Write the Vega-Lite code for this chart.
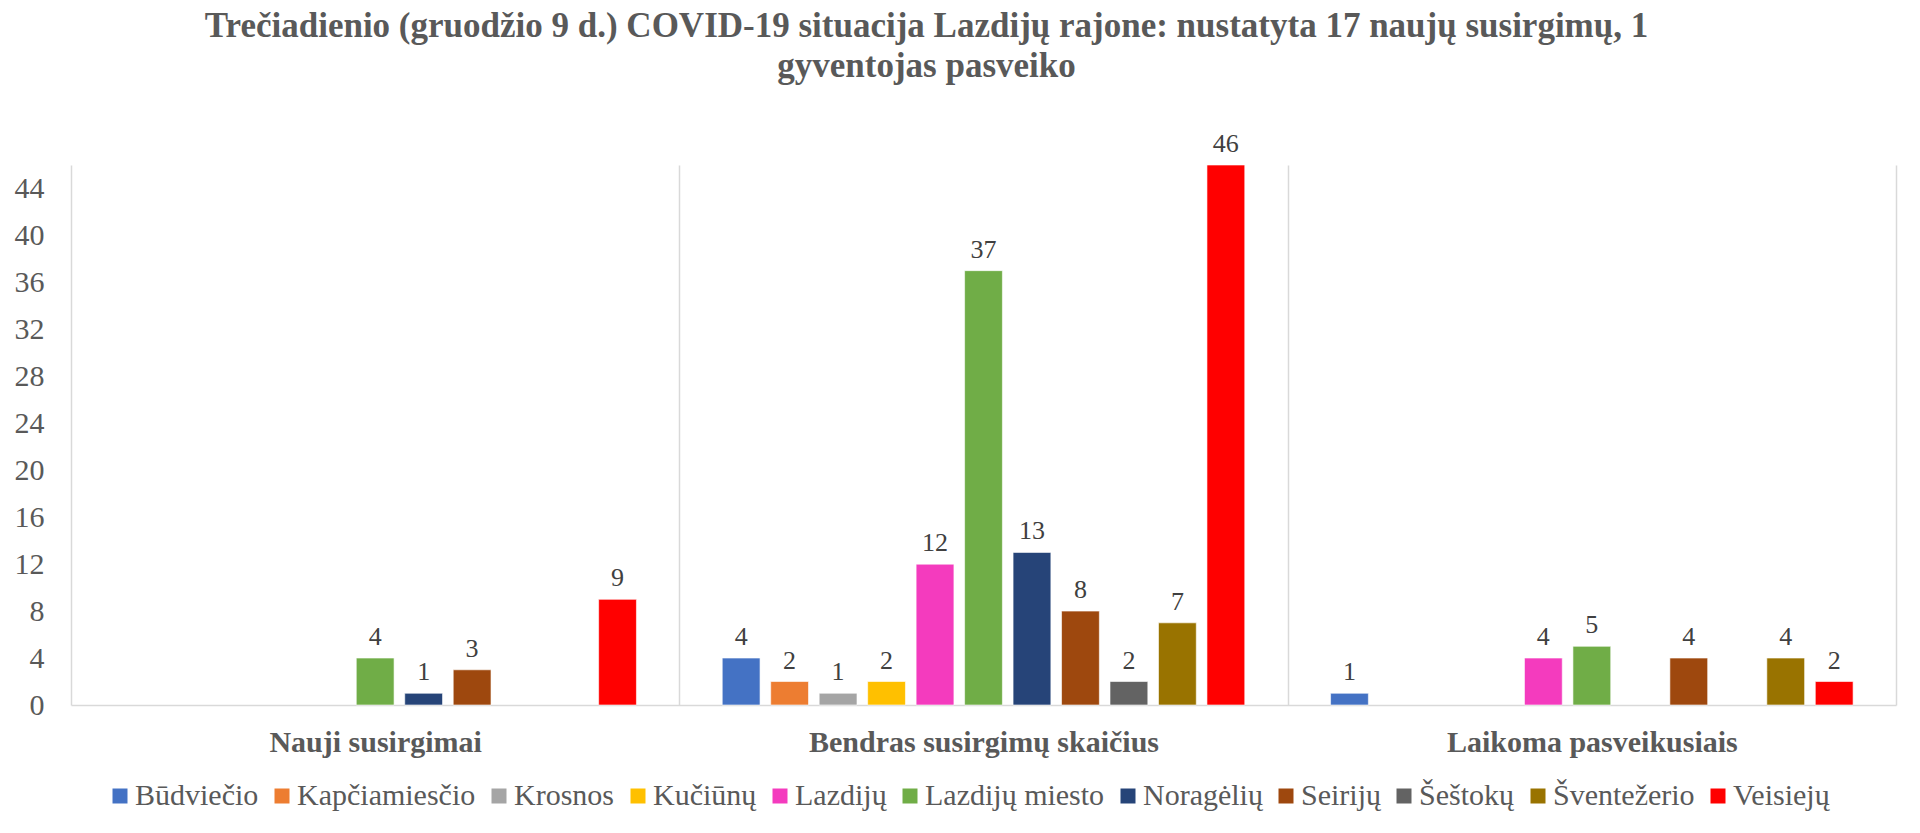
{
  "$schema": "https://vega.github.io/schema/vega-lite/v6.json",
  "width": 1825,
  "height": 540,
  "autosize": {"type": "none"},
  "padding": {"left": 71, "top": 165, "right": 24, "bottom": 128},
  "background": "white",
  "title": {
    "text": ["Trečiadienio (gruodžio 9 d.) COVID-19 situacija Lazdijų rajone: nustatyta 17 naujų susirgimų, 1", "gyventojas pasveiko"],
    "font": "Liberation Serif",
    "fontSize": 35,
    "fontWeight": "bold",
    "color": "#595959",
    "anchor": "middle",
    "lineHeight": 40,
    "dx": -57,
    "dy": -43
  },
  "data": {
    "values": [
      {"grupe": "Nauji susirgimai", "vietove": "Lazdijų miesto", "reiksme": 4},
      {"grupe": "Nauji susirgimai", "vietove": "Noragėlių", "reiksme": 1},
      {"grupe": "Nauji susirgimai", "vietove": "Seirijų", "reiksme": 3},
      {"grupe": "Nauji susirgimai", "vietove": "Veisiejų", "reiksme": 9},
      {"grupe": "Bendras susirgimų skaičius", "vietove": "Būdviečio", "reiksme": 4},
      {"grupe": "Bendras susirgimų skaičius", "vietove": "Kapčiamiesčio", "reiksme": 2},
      {"grupe": "Bendras susirgimų skaičius", "vietove": "Krosnos", "reiksme": 1},
      {"grupe": "Bendras susirgimų skaičius", "vietove": "Kučiūnų", "reiksme": 2},
      {"grupe": "Bendras susirgimų skaičius", "vietove": "Lazdijų", "reiksme": 12},
      {"grupe": "Bendras susirgimų skaičius", "vietove": "Lazdijų miesto", "reiksme": 37},
      {"grupe": "Bendras susirgimų skaičius", "vietove": "Noragėlių", "reiksme": 13},
      {"grupe": "Bendras susirgimų skaičius", "vietove": "Seirijų", "reiksme": 8},
      {"grupe": "Bendras susirgimų skaičius", "vietove": "Šeštokų", "reiksme": 2},
      {"grupe": "Bendras susirgimų skaičius", "vietove": "Šventežerio", "reiksme": 7},
      {"grupe": "Bendras susirgimų skaičius", "vietove": "Veisiejų", "reiksme": 46},
      {"grupe": "Laikoma pasveikusiais", "vietove": "Būdviečio", "reiksme": 1},
      {"grupe": "Laikoma pasveikusiais", "vietove": "Lazdijų", "reiksme": 4},
      {"grupe": "Laikoma pasveikusiais", "vietove": "Lazdijų miesto", "reiksme": 5},
      {"grupe": "Laikoma pasveikusiais", "vietove": "Seirijų", "reiksme": 4},
      {"grupe": "Laikoma pasveikusiais", "vietove": "Šventežerio", "reiksme": 4},
      {"grupe": "Laikoma pasveikusiais", "vietove": "Veisiejų", "reiksme": 2}
    ]
  },
  "encoding": {
    "x": {
      "field": "grupe",
      "type": "nominal",
      "sort": ["Nauji susirgimai", "Bendras susirgimų skaičius", "Laikoma pasveikusiais"],
      "scale": {"paddingInner": 0, "paddingOuter": 0},
      "axis": {
        "title": null,
        "labelAngle": 0,
        "labelFont": "Liberation Serif",
        "labelFontSize": 30,
        "labelFontWeight": "bold",
        "labelColor": "#595959",
        "labelPadding": 22,
        "labelLimit": 600,
        "ticks": false,
        "domainColor": "#D9D9D9",
        "domainWidth": 1.5,
        "grid": true,
        "gridColor": "#D9D9D9",
        "gridWidth": 1.5,
        "tickBand": "extent"
      }
    },
    "xOffset": {
      "field": "vietove",
      "type": "nominal",
      "scale": {
        "domain": ["Būdviečio", "Kapčiamiesčio", "Krosnos", "Kučiūnų", "Lazdijų", "Lazdijų miesto", "Noragėlių", "Seirijų", "Šeštokų", "Šventežerio", "Veisiejų"],
        "paddingInner": 0.22,
        "paddingOuter": 0.885
      }
    },
    "y": {
      "field": "reiksme",
      "type": "quantitative",
      "scale": {"domain": [0, 46], "nice": false},
      "axis": {
        "title": null,
        "values": [0, 4, 8, 12, 16, 20, 24, 28, 32, 36, 40, 44],
        "grid": false,
        "domain": false,
        "ticks": false,
        "labelPadding": 27,
        "labelFont": "Liberation Serif",
        "labelFontSize": 30,
        "labelColor": "#595959"
      }
    }
  },
  "layer": [
    {
      "mark": {"type": "bar", "stroke": "white", "strokeWidth": 1, "strokeOpacity": 0.6},
      "encoding": {
        "color": {
          "field": "vietove",
          "type": "nominal",
          "scale": {
            "domain": ["Būdviečio", "Kapčiamiesčio", "Krosnos", "Kučiūnų", "Lazdijų", "Lazdijų miesto", "Noragėlių", "Seirijų", "Šeštokų", "Šventežerio", "Veisiejų"],
            "range": ["#4472C4", "#ED7D31", "#A5A5A5", "#FFC000", "#F43BBE", "#70AD47", "#264478", "#9E480E", "#636363", "#997300", "#FF0000"]
          },
          "legend": {
            "title": null,
            "orient": "none",
            "legendX": 34,
            "legendY": 616,
            "direction": "horizontal",
            "columns": 11,
            "symbolType": "square",
            "symbolSize": 225,
            "symbolStrokeWidth": 0,
            "labelFont": "Liberation Serif",
            "labelFontSize": 30,
            "labelColor": "#595959",
            "labelOffset": 0,
            "columnPadding": 8,
            "labelLimit": 400
          }
        }
      }
    },
    {
      "mark": {
        "type": "text",
        "baseline": "alphabetic",
        "dy": -13,
        "font": "Liberation Serif",
        "fontSize": 26,
        "color": "#404040"
      },
      "encoding": {
        "text": {"field": "reiksme", "type": "quantitative"}
      }
    }
  ],
  "config": {
    "view": {"stroke": null}
  }
}
